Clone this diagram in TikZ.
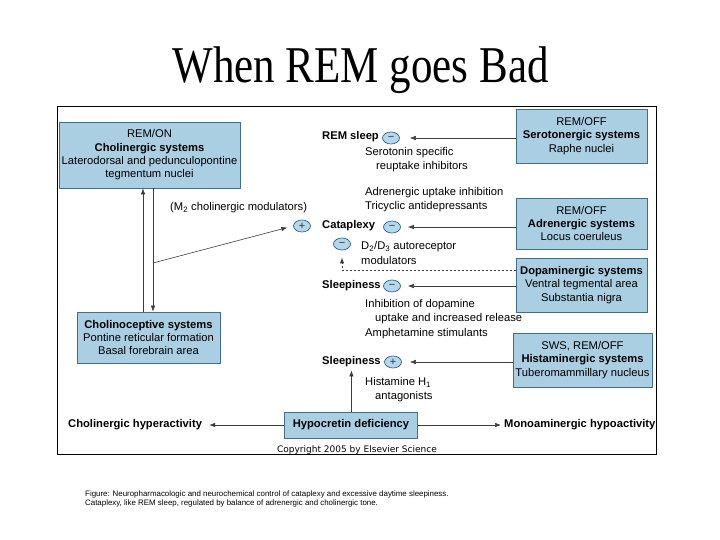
\documentclass[tikz,border=0pt]{standalone}
\usepackage{fontspec}
\setmainfont{Liberation Sans}
\newfontfamily\titlefont{Liberation Serif}
\newfontfamily\copyfont{DejaVu Sans}
\usepackage{tikz}
\usetikzlibrary{shapes.geometric, arrows.meta}
\definecolor{boxfill}{RGB}{170,206,226}
\definecolor{boxline}{RGB}{62,112,140}
\definecolor{signfill}{RGB}{180,215,235}
\definecolor{signline}{RGB}{45,95,145}
\definecolor{arrowgray}{RGB}{60,60,60}
\tikzstyle{system}=[draw=boxline, line width=0.8pt, fill=boxfill, align=center, inner sep=0pt, font=\fontsize{11.2}{13.4}\selectfont]
\tikzstyle{state}=[inner sep=0pt, font=\fontsize{11.2}{13}\selectfont\bfseries]
\tikzstyle{note}=[inner sep=0pt, align=left, font=\fontsize{11.2}{14.2}\selectfont]
\tikzstyle{sign}=[ellipse, draw=signline, line width=0.7pt, fill=signfill, minimum width=17pt, minimum height=12pt, inner sep=0pt, font=\fontsize{11}{11}\selectfont, text=black!80]
\tikzstyle{arr}=[draw=arrowgray, line width=0.6pt, -{Latex[length=6pt, width=4.5pt]}]

\begin{document}
\begin{tikzpicture}[x=1pt, y=-1pt]
    \useasboundingbox (0,0) rectangle (720,540);
% Title and frame
    \node[anchor=base] (title) at (360.5,83) {\scalebox{1}[1.2]{\titlefont\fontsize{43}{43}\selectfont When REM goes Bad}};
    \draw[line width=1pt] (57,107) rectangle (656,454);
% Systems
    \node[system, minimum width=181pt, minimum height=66pt] (remon) at (149.5,155) {REM/ON\\\textbf{Cholinergic systems}\\Laterodorsal and pedunculopontine\\tegmentum nuclei};
    \node[system, minimum width=143pt, minimum height=51pt] (choli) at (148.5,337.5) {\textbf{Cholinoceptive systems}\\Pontine reticular formation\\Basal forebrain area};
    \node[system, minimum width=131pt, minimum height=54pt] (sero) at (581.5,136) {REM/OFF\\\textbf{Serotonergic systems}\\Raphe nuclei};
    \node[system, minimum width=131pt, minimum height=51pt] (adren) at (581.5,223.5) {REM/OFF\\\textbf{Adrenergic systems}\\Locus coeruleus};
    \node[system, minimum width=131pt, minimum height=54pt] (dopa) at (581.5,285) {\textbf{Dopaminergic systems}\\Ventral tegmental area\\Substantia nigra};
    \node[system, minimum width=139pt, minimum height=54pt] (hista) at (582.5,360) {SWS, REM/OFF\\\textbf{Histaminergic systems}\\Tuberomammillary nucleus};
    \node[system, minimum width=133pt, minimum height=26pt] (hypo) at (351,425) {\textbf{Hypocretin deficiency}};
% States
    \node[state, anchor=west] (rem) at (322,137) {REM sleep};
    \node[state, anchor=west] (cata) at (322,226) {Cataplexy};
    \node[state, anchor=west] (sleepda) at (322,286) {Sleepiness};
    \node[state, anchor=west] (sleephi) at (322,362) {Sleepiness};
    \node[state, anchor=west] (cholhyp) at (68,425) {Cholinergic hyperactivity};
    \node[state, anchor=west] (monohyp) at (504,425) {Monoaminergic hypoactivity};
% Signs
    \node[sign] (remsign) at (391,138) {−};
    \node[sign] (catplus) at (302,226) {+};
    \node[sign] (catminus) at (392,227) {−};
    \node[sign] (d2sign) at (342,244) {−};
    \node[sign] (sleepdasign) at (392,286) {−};
    \node[sign] (sleephisign) at (393,362) {+};
% Drug notes
    \node[note, anchor=west] (seronote) at (365,159.5) {Serotonin specific\\\hspace*{11pt}reuptake inhibitors};
    \node[note, anchor=west] (adrennote) at (365,200) {Adrenergic uptake inhibition\\Tricyclic antidepressants};
    \node[note, anchor=west] (m2note) at (170,208) {(M\textsubscript{2} cholinergic modulators)};
    \node[note, anchor=west] (d2note) at (361,253) {D\textsubscript{2}/D\textsubscript{3} autoreceptor\\modulators};
    \node[note, anchor=west] (dopanote) at (365,319) {Inhibition of dopamine\\\hspace*{10pt}uptake and increased release\\Amphetamine stimulants};
    \node[note, anchor=west] (histanote) at (365,390) {Histamine H\textsubscript{1}\\\hspace*{10pt}antagonists};
% Credits
    \node[inner sep=0pt, font=\copyfont\fontsize{9}{9}\selectfont] (copyright) at (357,450) {Copyright 2005 by Elsevier Science};
    \node[inner sep=0pt, anchor=west, align=left, font=\fontsize{7.9}{8.8}\selectfont] (caption) at (85,499) {Figure: Neuropharmacologic and neurochemical control of cataplexy and excessive daytime sleepiness.\\Cataplexy, like REM sleep, regulated by balance of adrenergic and cholinergic tone.};
% Connectors
    \coordinate (branch) at (153,263);
    \draw[arr] ([xshift=-5.5pt]choli.north) -- ([xshift=-5.5pt]choli.north |- remon.south);
    \draw[arr] ([xshift=4.5pt]choli.north |- remon.south) -- ([xshift=4.5pt]choli.north);
    \draw[arr, shorten >=6pt] (branch) -- (catplus.west);
    \draw[arr, shorten >=10pt] (sero.west |- remsign) -- (remsign.east);
    \draw[arr, shorten >=7pt] (adren.west |- catminus) -- (catminus.east);
    \draw[arr, shorten >=7pt] (dopa.west |- sleepdasign) -- (sleepdasign.east);
    \draw[arr, line width=1pt, dash pattern=on 1.4pt off 2.6pt, shorten >=7pt] ([yshift=15pt]dopa.west) -| (d2sign.south);
    \draw[arr, shorten >=8pt] (hista.west |- sleephisign) -- (sleephisign.east);
    \draw[arr, shorten >=3pt] (hypo.north -| sleephi.south) -- (sleephi.south);
    \draw[arr, shorten >=7pt] (hypo.west) -- (hypo.west -| cholhyp.east);
    \draw[arr, shorten >=3pt] (hypo.east) -- (hypo.east -| monohyp.west);
\end{tikzpicture}
\end{document}
